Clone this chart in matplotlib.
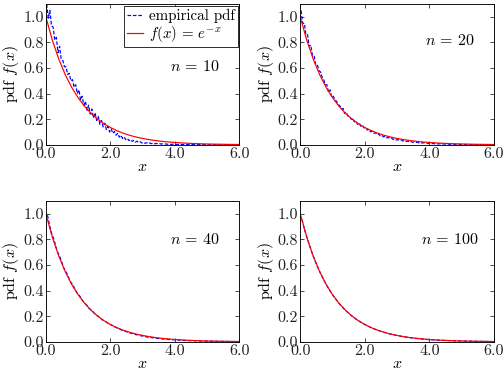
import numpy as np
import matplotlib
matplotlib.use("Agg")
from matplotlib import pyplot as plt
from matplotlib.ticker import FormatStrFormatter

plt.rcParams['font.family'] = 'serif'
plt.rcParams['font.serif'] = ['cmr10']
plt.rcParams['mathtext.fontset'] = 'cm'
plt.rcParams['axes.formatter.use_mathtext'] = True
plt.rcParams['font.size'] = 16
plt.rcParams['xtick.direction'] = 'in'
plt.rcParams['ytick.direction'] = 'in'
plt.rcParams['xtick.top'] = True
plt.rcParams['ytick.right'] = True

# bin centres of the empirical pdfs
x_fine = np.arange(0.025, 6.0, 0.05)     # 120 bins, n = 10 and n = 20
x_coarse = np.arange(0.05, 6.0, 0.1)     # 60 bins, n = 40 and n = 100

pdf_n10 = [
    1.10, 0.99, 1.05, 0.93, 0.92, 0.82, 0.84, 0.72, 0.77, 0.67,
    0.66, 0.61, 0.61, 0.55, 0.56, 0.50, 0.51, 0.45, 0.47, 0.40,
    0.43, 0.35, 0.38, 0.31, 0.34, 0.27, 0.31, 0.24, 0.28, 0.21,
    0.25, 0.19, 0.22, 0.16, 0.19, 0.14, 0.17, 0.12, 0.145, 0.10,
    0.125, 0.09, 0.105, 0.075, 0.09, 0.06, 0.075, 0.05, 0.062, 0.04,
    0.05, 0.033, 0.042, 0.027, 0.035, 0.021, 0.029, 0.018, 0.024, 0.014,
    0.019, 0.012, 0.017, 0.010, 0.014, 0.009, 0.013, 0.008, 0.011, 0.007,
    0.009, 0.006, 0.008, 0.005, 0.007, 0.004, 0.006, 0.003, 0.005, 0.003,
    0.004, 0.002, 0.004, 0.002, 0.003, 0.002, 0.003, 0.001, 0.002, 0.001,
    0.002, 0.001, 0.002, 0.001, 0.001, 0.002, 0.001, 0.001, 0.001, 0.001,
    0.001, 0.0005, 0.001, 0.0005, 0.0005, 0.001, 0.0005, 0.0005, 0.0, 0.0005,
    0.0005, 0.0, 0.0005, 0.0, 0.0, 0.0005, 0.0, 0.0, 0.0, 0.0,
]

pdf_n20 = [
    1.05, 0.95, 0.95, 0.86, 0.86, 0.77, 0.78, 0.70, 0.70, 0.63,
    0.63, 0.58, 0.57, 0.53, 0.51, 0.47, 0.47, 0.41, 0.43, 0.37,
    0.38, 0.35, 0.34, 0.315, 0.305, 0.28, 0.285, 0.245, 0.255, 0.225,
    0.22, 0.20, 0.21, 0.18, 0.185, 0.16, 0.17, 0.145, 0.152, 0.132,
    0.137, 0.116, 0.121, 0.102, 0.107, 0.09, 0.095, 0.08, 0.085, 0.07,
    0.075, 0.062, 0.066, 0.055, 0.058, 0.049, 0.052, 0.042, 0.046, 0.037,
    0.041, 0.034, 0.037, 0.030, 0.033, 0.026, 0.029, 0.023, 0.025, 0.020,
    0.022, 0.018, 0.020, 0.015, 0.018, 0.014, 0.016, 0.012, 0.014, 0.010,
    0.011, 0.009, 0.010, 0.008, 0.009, 0.007, 0.008, 0.006, 0.007, 0.006,
    0.006, 0.005, 0.005, 0.004, 0.005, 0.004, 0.004, 0.003, 0.004, 0.003,
    0.003, 0.003, 0.002, 0.003, 0.002, 0.002, 0.002, 0.002, 0.001, 0.002,
    0.001, 0.001, 0.002, 0.001, 0.001, 0.001, 0.001, 0.0005, 0.001, 0.0005,
]

pdf_n40 = [
    0.99, 0.87, 0.80, 0.71, 0.655, 0.58, 0.535, 0.475, 0.438, 0.388,
    0.358, 0.318, 0.292, 0.259, 0.238, 0.211, 0.196, 0.172, 0.159, 0.140,
    0.130, 0.114, 0.105, 0.091, 0.084, 0.073, 0.067, 0.058, 0.054, 0.047,
    0.043, 0.037, 0.035, 0.030, 0.028, 0.024, 0.022, 0.019, 0.018, 0.016,
    0.015, 0.013, 0.012, 0.010, 0.0097, 0.0085, 0.0079, 0.0069, 0.0064, 0.0057,
    0.0052, 0.0045, 0.0042, 0.0037, 0.0034, 0.0031, 0.0028, 0.0025, 0.0023, 0.0021,
]

pdf_n100 = [
    0.956, 0.862, 0.781, 0.705, 0.638, 0.578, 0.522, 0.473, 0.427, 0.387,
    0.350, 0.317, 0.286, 0.259, 0.235, 0.212, 0.192, 0.174, 0.157, 0.142,
    0.129, 0.116, 0.105, 0.095, 0.086, 0.078, 0.070, 0.063, 0.057, 0.052,
    0.047, 0.042, 0.038, 0.034, 0.031, 0.028, 0.025, 0.023, 0.020, 0.018,
    0.0165, 0.015, 0.0135, 0.012, 0.011, 0.010, 0.009, 0.008, 0.0073, 0.0066,
    0.006, 0.0054, 0.0049, 0.0044, 0.004, 0.0036, 0.0033, 0.003, 0.0027, 0.0024,
]

# reference curve f(x) = e^{-x}, read at steps of 0.2
x_exact = np.arange(0.0, 6.01, 0.2)
f_exact = [
    1.0, 0.8187, 0.6703, 0.5488, 0.4493, 0.3679, 0.3012, 0.2466, 0.2019, 0.1653,
    0.1353, 0.1108, 0.0907, 0.0743, 0.0608, 0.0498, 0.0408, 0.0334, 0.0273, 0.0224,
    0.0183, 0.0150, 0.0123, 0.0101, 0.0082, 0.0067, 0.0055, 0.0045, 0.0037, 0.0030,
    0.0025,
]

panels = [
    (10, x_fine, pdf_n10, 0.557),
    (20, x_fine, pdf_n20, 0.74),
    (40, x_coarse, pdf_n40, 0.73),
    (100, x_coarse, pdf_n100, 0.73),
]

fig, axes = plt.subplots(2, 2, figsize=(7.0, 374 / 72.0), dpi=72)
fig.subplots_adjust(left=0.091, right=0.980, top=0.989, bottom=0.086,
                    wspace=0.314, hspace=0.40)

for ax, (n, xs, ys, ty) in zip(axes.flat, panels):
    ax.plot(xs, ys, color='blue', linestyle='--', dashes=(3, 1.5), lw=1.2,
            label='empirical pdf')
    ax.plot(x_exact, f_exact, color='red', lw=1.2,
            label=r'$f(x)\,=\,e^{-x}$')
    ax.set_xlim(0, 6)
    ax.set_ylim(0, 1.1)
    ax.set_xticks([0, 2, 4, 6])
    ax.set_yticks([0.0, 0.2, 0.4, 0.6, 0.8, 1.0])
    ax.xaxis.set_major_formatter(FormatStrFormatter('%.1f'))
    ax.yaxis.set_major_formatter(FormatStrFormatter('%.1f'))
    ax.tick_params(length=4, width=0.8, pad=2, colors='#222222')
    for sp in ax.spines.values():
        sp.set_linewidth(0.9)
    ax.set_xlabel('$x$', labelpad=0)
    ax.set_ylabel('pdf $f(x)$', labelpad=2)
    ax.text(0.77, ty, r'$n\,=\,%d$' % n, transform=ax.transAxes,
            ha='center', va='center')

lgd = axes[0, 0].legend(loc='upper right', borderaxespad=0.1, fancybox=False,
                        handlelength=1.1, handletextpad=0.4,
                        borderpad=0.2, labelspacing=0.1, framealpha=1.0,
                        fontsize=15)
lgd.get_frame().set_edgecolor('black')
lgd.get_frame().set_linewidth(0.8)
for h, c in zip(lgd.get_lines(), ['blue', 'red']):
    h.set_color(c)

fig.savefig('out.png', dpi=72)
